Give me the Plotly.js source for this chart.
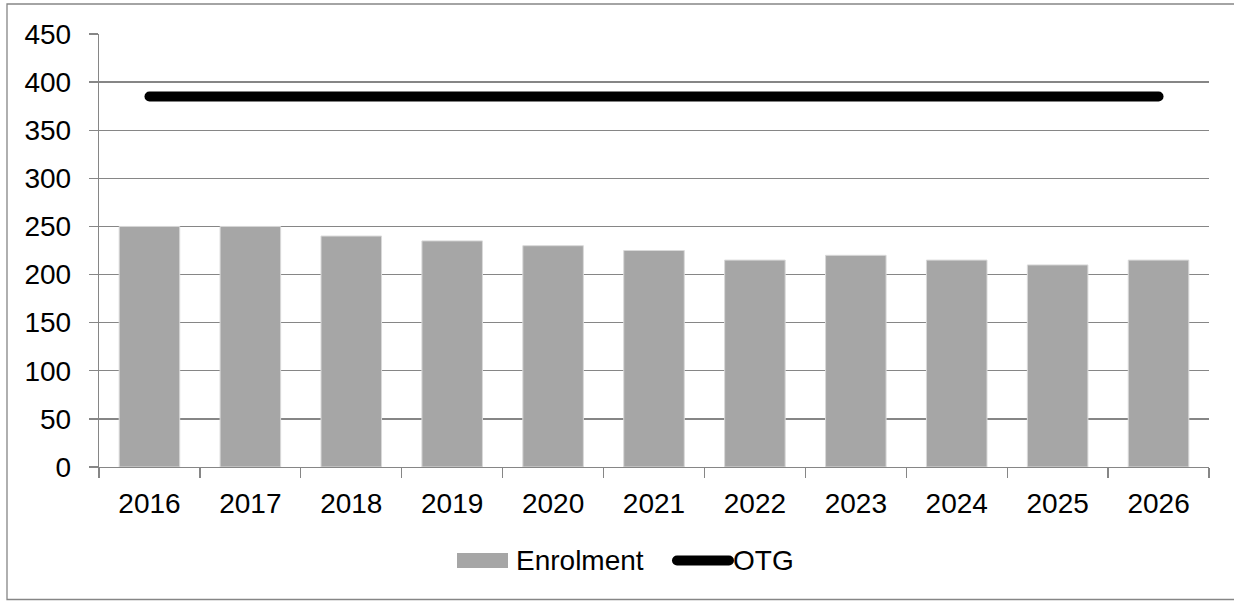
<!DOCTYPE html>
<html>
<head>
<meta charset="utf-8">
<script src="https://cdn.plot.ly/plotly-3.0.1.min.js"></script>
<style>
  html, body { margin: 0; padding: 0; background: #fff; }
  #chart { width: 1234px; height: 601px; }
  .js-line { stroke-linecap: round; }
</style>
</head>
<body>
<div id="chart"></div>
<script>
const years = ['2016','2017','2018','2019','2020','2021','2022','2023','2024','2025','2026'];
const enrolment = [250, 250, 240, 235, 230, 225, 215, 220, 215, 210, 215];
const otg = [385, 385, 385, 385, 385, 385, 385, 385, 385, 385, 385];
const seriesNames = ['Enrolment', 'OTG'];
const yTicks = [0, 50, 100, 150, 200, 250, 300, 350, 400, 450];

const W = 1234, H = 601;
const M = {l: 99, r: 25, t: 34, b: 134};
const pw = W - M.l - M.r, ph = H - M.t - M.b;
const px = x => (x - M.l) / pw;
const py = y => (H - M.b - y) / ph;

const FONT = 'Liberation Sans, Arial, sans-serif';
const FS = 28;
const GRID = '#868686';

const traces = [
  {
    type: 'bar', x: years, y: enrolment, name: seriesNames[0],
    marker: {color: '#a6a6a6', line: {color: '#d9d9d9', width: 1}},
    width: 0.6, showlegend: false, hoverinfo: 'x+y'
  },
  {
    type: 'scatter', mode: 'lines', x: years, y: otg, name: seriesNames[1],
    line: {color: '#000000', width: 10}, showlegend: false
  }
];

const layout = {
  width: W, height: H,
  margin: M,
  paper_bgcolor: '#ffffff', plot_bgcolor: '#ffffff',
  font: {family: FONT, size: FS, color: '#000'},
  showlegend: false,
  bargap: 0.4,
  xaxis: {
    type: 'category', tickson: 'boundaries', ticks: 'outside', ticklen: 10,
    tickcolor: GRID, tickwidth: 1.3, showline: true, linecolor: GRID, linewidth: 1.3,
    showgrid: false, zeroline: false, tickfont: {size: FS, family: FONT},
    ticklabelstandoff: 11
  },
  yaxis: {
    range: [0, 450], tickvals: yTicks, ticktext: yTicks.map(String),
    ticks: 'outside', ticklen: 9, tickcolor: GRID, tickwidth: 1.3,
    showline: true, linecolor: GRID, linewidth: 1.3,
    showgrid: true, gridcolor: GRID, gridwidth: 1.3, zeroline: false,
    tickfont: {size: FS, family: FONT}, ticklabelstandoff: 12
  },
  shapes: [
    {type: 'rect', xref: 'paper', yref: 'paper', x0: px(7), x1: px(1260), y0: py(4), y1: py(599.5),
     line: {color: '#868686', width: 1.3}, fillcolor: 'rgba(0,0,0,0)', layer: 'below'},
    {type: 'rect', xref: 'paper', yref: 'paper', x0: px(457), x1: px(508), y0: py(553), y1: py(568),
     line: {width: 0}, fillcolor: '#a6a6a6'},
    {type: 'line', xref: 'paper', yref: 'paper', x0: px(677), x1: px(729), y0: py(560.5), y1: py(560.5),
     line: {color: '#000', width: 10}}
  ],
  annotations: [
    {xref: 'paper', yref: 'paper', x: px(514), y: py(560.5), xanchor: 'left', yanchor: 'middle',
     text: seriesNames[0], showarrow: false, font: {size: FS, family: FONT, color: '#000'}},
    {xref: 'paper', yref: 'paper', x: px(731), y: py(560.5), xanchor: 'left', yanchor: 'middle',
     text: seriesNames[1], showarrow: false, font: {size: FS, family: FONT, color: '#000'}}
  ]
};

Plotly.newPlot('chart', traces, layout, {displayModeBar: false, staticPlot: true}).then(() => {
  document.querySelectorAll('.shapelayer path').forEach(p => p.style.strokeLinecap = 'round');
});
</script>
</body>
</html>
